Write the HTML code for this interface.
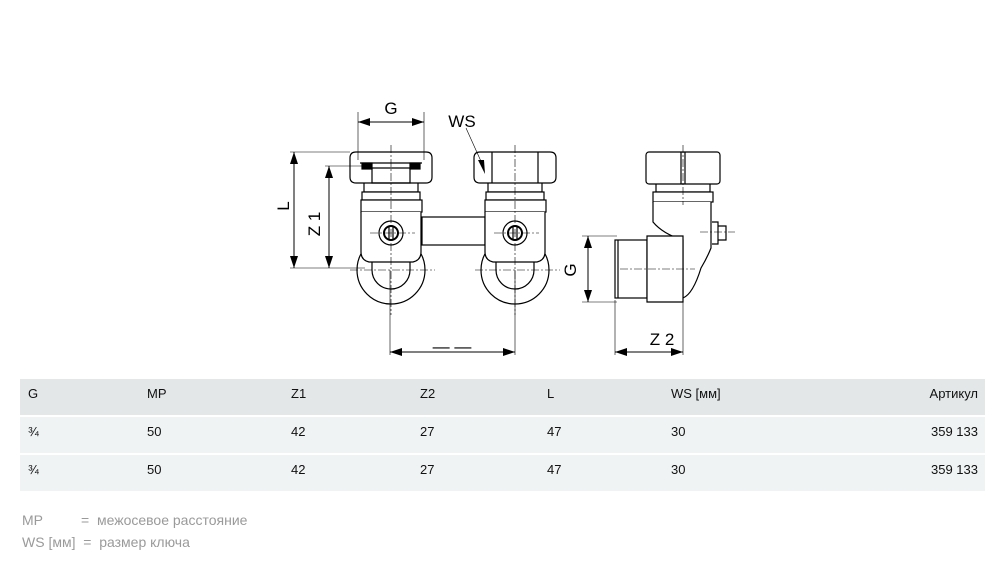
<!DOCTYPE html>
<html><head><meta charset="utf-8"><style>
body{margin:0;width:997px;height:578px;background:#fff;position:relative;overflow:hidden;font-family:"Liberation Sans Narrow","Liberation Sans",sans-serif}
svg{position:absolute;left:0;top:0}
.tbl{position:absolute;left:20px;width:965px;height:36px;font-size:13px;color:#111}
.tbl span{position:absolute;top:7px;transform-origin:left;}
.leg{position:absolute;left:22px;font-size:14px;color:#9a9a9a}
</style></head><body>
<svg width="997" height="370" viewBox="0 0 997 370">
<defs><marker id="a" markerWidth="12" markerHeight="8" refX="12" refY="4" orient="auto-start-reverse" markerUnits="userSpaceOnUse"><path d="M0,0 L12,4 L0,8z" fill="#000"/></marker></defs>
<g stroke="#000" fill="none" stroke-width="1.2">
<path d="M350,158 q0,-6 6,-6 h70 q6,0 6,6 v19 q0,6 -6,6 h-70 q-6,0 -6,-6z" fill="#fff"/>
<path d="M360,163 h62 M364,183 v9 h54 v-9 M372,168 h38 v15 h-38z"/>
<rect x="362" y="163" width="10" height="6" fill="#000"/><rect x="410" y="163" width="10" height="6" fill="#000"/>
<rect x="362" y="192" width="58" height="8" fill="#fff"/>
<circle cx="391" cy="270" r="34" fill="#fff"/>
<path d="M372,262 v8 a19,19 0 0 0 38,0 v-8"/>
<rect x="361" y="200" width="61" height="12" fill="#fff"/>
<path d="M361,212 v40 q0,8 8,10 h44 q8,-2 8,-10 v-40" fill="#fff"/>
<circle cx="391" cy="233" r="12" fill="#fff"/><circle cx="391" cy="233" r="7" stroke-width="2"/>
<path d="M389,226 v14 M393,226 v14"/>
<rect x="422" y="217" width="63" height="28" fill="#fff"/>
<path d="M474,158 q0,-6 6,-6 h70 q6,0 6,6 v19 q0,6 -6,6 h-70 q-6,0 -6,-6z" fill="#fff"/>
<path d="M492,152 v31 M538,152 v31 M488,183 v9 h54 v-9"/>
<rect x="486" y="192" width="58" height="8" fill="#fff"/>
<circle cx="515" cy="270" r="34" fill="#fff"/>
<path d="M496,262 v8 a19,19 0 0 0 38,0 v-8"/>
<rect x="485" y="200" width="61" height="12" fill="#fff"/>
<path d="M485,212 v40 q0,8 8,10 h44 q8,-2 8,-10 v-40" fill="#fff"/>
<circle cx="515" cy="233" r="12" fill="#fff"/><circle cx="515" cy="233" r="7" stroke-width="2"/>
<path d="M513,226 v14 M517,226 v14"/>
<rect x="646" y="152" width="74" height="32" rx="3" fill="#fff"/>
<path d="M681,152 v32 M685,152 v32 M656,184 v8 h54 v-8"/>
<rect x="653" y="192" width="60" height="10" fill="#fff"/>
<path d="M653,202 v20 q10,12 30,18 v58 q10,-4 18,-30 q6,-10 10,-20 v-46" fill="#fff"/>
<path d="M712,222 h6 v22 h-6 M718,226 h8 v14 h-8"/>
<rect x="615" y="240" width="32" height="58" fill="#fff"/>
<path d="M647,236 h36 v66 h-36z M618,240 v58" fill="#fff"/>
</g>
<g stroke="#000" stroke-width="0.6" fill="none">
<path d="M358,112 v48 M424,112 v48 M290,152 h60 M325,166 h40 M290,268 h75 M325,268 h40 M390,270 v85 M515,270 v85 M615,300 v55 M683,300 v55 M582,236 h35 M582,302 h35"/>
<path d="M466,128 l18,40" />
</g>
<g stroke="#000" stroke-width="0.6" stroke-dasharray="8,2,2,2" fill="none">
<path d="M391,145 v170 M515,145 v170 M370,233 h45 M494,233 h45 M350,270 h85 M475,270 h85 M683,145 v60 M620,269 h75 M700,232 h35"/>
</g>
<g stroke="#000" stroke-width="1" fill="none">
<path d="M358,122 H424" marker-start="url(#a)" marker-end="url(#a)"/>
<path d="M294,152 V268" marker-start="url(#a)" marker-end="url(#a)"/>
<path d="M329,166 V268" marker-start="url(#a)" marker-end="url(#a)"/>
<path d="M390,352 H515" marker-start="url(#a)" marker-end="url(#a)"/>
<path d="M615,352 H683" marker-start="url(#a)" marker-end="url(#a)"/>
<path d="M588,236 V302" marker-start="url(#a)" marker-end="url(#a)"/>
</g>
<path d="M478,160 l7,14 l-1,-14z" fill="#000"/>
<g font-family="Liberation Sans,sans-serif" font-size="17" fill="#000" text-anchor="middle">
<text x="391" y="114">G</text>
<text x="462" y="127">WS</text>
<text x="452" y="352">— —</text>
<text x="662" y="345">Z 2</text>
<text transform="translate(289,206) rotate(-90)">L</text>
<text transform="translate(320,224) rotate(-90)">Z 1</text>
<text transform="translate(576,270) rotate(-90)">G</text>
</g>
</svg>
<div class="tbl" style="top:379px;background:#e3e7e8"><span style="left:8px">G</span><span style="left:127px">MP</span><span style="left:271px">Z1</span><span style="left:400px">Z2</span><span style="left:527px">L</span><span style="left:651px">WS [мм]</span><span style="right:7px">Артикул</span></div>
<div class="tbl" style="top:417px;background:#f0f3f4"><span style="left:8px">¾</span><span style="left:127px">50</span><span style="left:271px">42</span><span style="left:400px">27</span><span style="left:527px">47</span><span style="left:651px">30</span><span style="right:7px">359 133</span></div>
<div class="tbl" style="top:455px;background:#f0f3f4"><span style="left:8px">¾</span><span style="left:127px">50</span><span style="left:271px">42</span><span style="left:400px">27</span><span style="left:527px">47</span><span style="left:651px">30</span><span style="right:7px">359 133</span></div>
<div class="leg" style="top:512px">MP<span style="position:absolute;left:59px;white-space:nowrap">=&nbsp; межосевое расстояние</span></div>
<div class="leg" style="top:534px;white-space:nowrap">WS [мм]&nbsp; =&nbsp; размер ключа</div>
</body></html>
